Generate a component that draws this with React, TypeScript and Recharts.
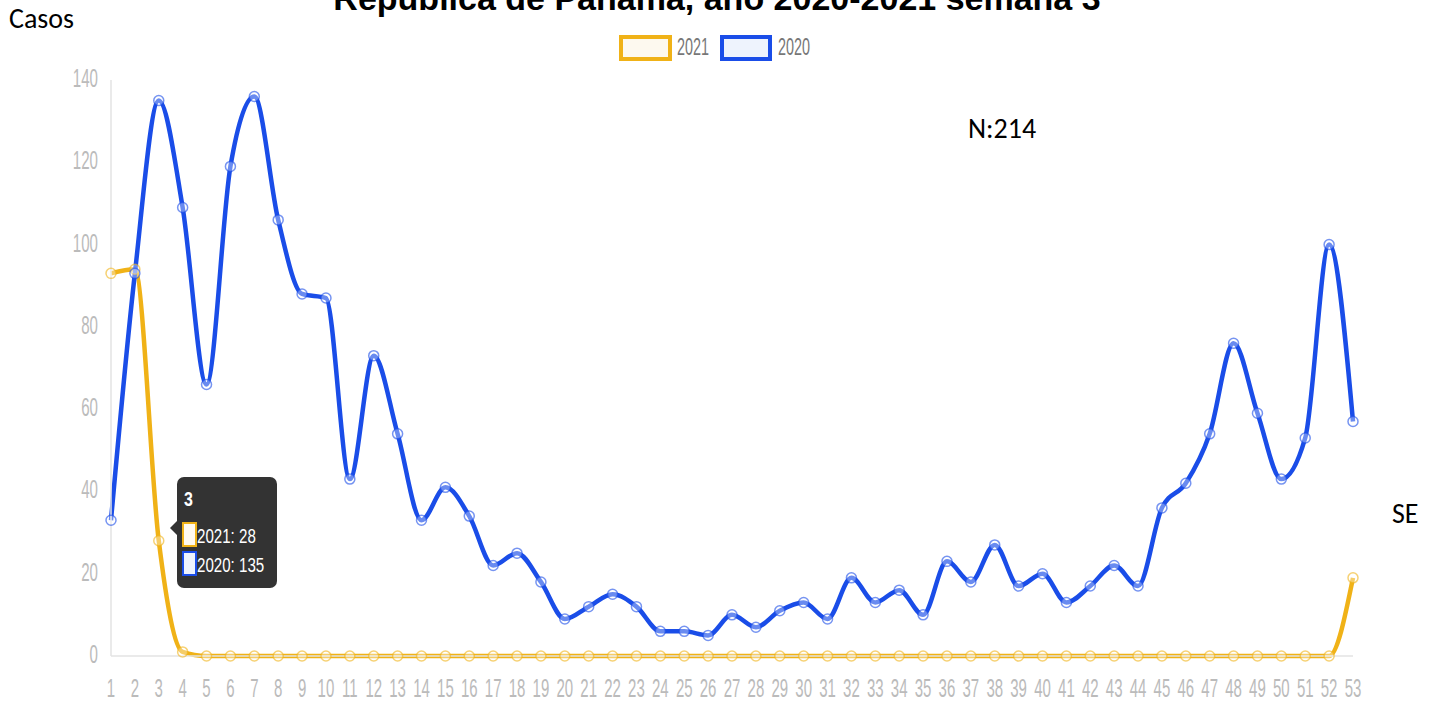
import React from "react";
import { LineChart, Line, XAxis, YAxis, Tooltip } from "recharts";

const weeks: number[] = [
  1, 2, 3, 4, 5, 6, 7, 8, 9, 10, 11, 12, 13, 14, 15, 16, 17, 18, 19, 20,
  21, 22, 23, 24, 25, 26, 27, 28, 29, 30, 31, 32, 33, 34, 35, 36, 37, 38, 39, 40,
  41, 42, 43, 44, 45, 46, 47, 48, 49, 50, 51, 52, 53,
];

const cases2020: number[] = [
  33, 93, 135, 109, 66, 119, 136, 106, 88, 87, 43, 73, 54, 33, 41, 34, 22, 25, 18, 9,
  12, 15, 12, 6, 6, 5, 10, 7, 11, 13, 9, 19, 13, 16, 10, 23, 18, 27, 17, 20,
  13, 17, 22, 17, 36, 42, 54, 76, 59, 43, 53, 100, 57,
];

const cases2021: number[] = [
  93, 94, 28, 1, 0, 0, 0, 0, 0, 0, 0, 0, 0, 0, 0, 0, 0, 0, 0, 0,
  0, 0, 0, 0, 0, 0, 0, 0, 0, 0, 0, 0, 0, 0, 0, 0, 0, 0, 0, 0,
  0, 0, 0, 0, 0, 0, 0, 0, 0, 0, 0, 0, 19,
];

const yTicks: number[] = [0, 20, 40, 60, 80, 100, 120, 140];
const seriesNames: string[] = ["2021", "2020"];

const data = weeks.map((w, i) => ({ week: w, y2021: cases2021[i], y2020: cases2020[i] }));

const YELLOW = "#f0b217";
const BLUE = "#1a4de8";
const ARIAL = "'Liberation Sans', Arial, sans-serif";
const CALIBRI = "Carlito, Calibri, 'Open Sans', sans-serif";
const TICK_COLOR = "#bbbbbb";

const XTick = (props: any) => {
  const { x, y, payload } = props;
  return (
    <g transform={`translate(${x},${y})`}>
      <text transform="scale(0.6,1)" textAnchor="middle" fontFamily={ARIAL} fontSize={25} fill={TICK_COLOR}>
        {payload.value}
      </text>
    </g>
  );
};

const YTick = (props: any) => {
  const { x, y, payload } = props;
  return (
    <g transform={`translate(${x},${y})`}>
      <text transform="scale(0.58,1)" textAnchor="end" dy={7} fontFamily={ARIAL} fontSize={26} fill={TICK_COLOR}>
        {payload.value}
      </text>
    </g>
  );
};

const TipContent = (props: any) => {
  const { payload, label } = props;
  if (!payload || !payload.length) return null;
  return (
    <svg width={108} height={114} style={{ display: "block", overflow: "visible" }}>
      <rect x={7} y={0} width={100} height={111} rx={7} fill="#333" />
      <path d="M7,44 L0,51 L7,58 Z" fill="#333" />
      <g transform="translate(14,29)">
        <text transform="scale(0.8,1)" fontFamily={ARIAL} fontWeight="bold" fontSize={20} fill="#fff">
          {label}
        </text>
      </g>
      {payload.map((p: any, i: number) => {
        const c = p.dataKey === "y2021" ? YELLOW : BLUE;
        const bg = p.dataKey === "y2021" ? "#fffaf0" : "#eef3fd";
        const top = 46 + i * 29;
        return (
          <g key={p.dataKey}>
            <rect x={13} y={top} width={13} height={23} fill={bg} stroke={c} strokeWidth={2} />
            <g transform={`translate(27,${top + 20})`}>
              <text transform="scale(0.72,1)" fontFamily={ARIAL} fontSize={21} fill="#fff">
                {p.name}: {p.value}
              </text>
            </g>
          </g>
        );
      })}
    </svg>
  );
};

export default function App() {
  return (
    <div style={{ position: "relative", width: 1435, height: 702, background: "#fff", overflow: "hidden" }}>
      <style>{"body{margin:0}"}</style>
      <LineChart width={1435} height={702} data={data} margin={{ top: 80, right: 82, bottom: 6, left: 51 }}>
        <XAxis
          dataKey="week"
          type="number"
          domain={[1, 53]}
          ticks={weeks}
          interval={0}
          height={40}
          axisLine={{ stroke: "#e3e3e3", strokeWidth: 1.5 }}
          tickLine={false}
          tickSize={0}
          tickMargin={41}
          tick={<XTick />}
        />
        <YAxis
          domain={[0, 140]}
          ticks={yTicks}
          width={60}
          axisLine={{ stroke: "#e3e3e3", strokeWidth: 1.5 }}
          tickLine={false}
          tickSize={0}
          tickMargin={13}
          tick={<YTick />}
        />
        <Tooltip
          active={true}
          defaultIndex={2}
          cursor={false}
          isAnimationActive={false}
          position={{ x: 170, y: 477 }}
          wrapperStyle={{ outline: "none" }}
          content={<TipContent />}
        />
        <Line
          name={seriesNames[0]}
          dataKey="y2021"
          type="monotone"
          stroke={YELLOW}
          strokeWidth={4.5}
          dot={{ r: 5, stroke: YELLOW, strokeWidth: 1.5, strokeOpacity: 0.6, fill: "rgba(255,255,255,0.35)" }}
          activeDot={false}
          isAnimationActive={false}
        />
        <Line
          name={seriesNames[1]}
          dataKey="y2020"
          type="monotone"
          stroke={BLUE}
          strokeWidth={4.5}
          dot={{ r: 5, stroke: BLUE, strokeWidth: 1.5, strokeOpacity: 0.6, fill: "rgba(255,255,255,0.35)" }}
          activeDot={false}
          isAnimationActive={false}
        />
      </LineChart>
      <svg width={1435} height={702} style={{ position: "absolute", left: 0, top: 0, pointerEvents: "none" }}>
        <text x={717} y={10} textAnchor="middle" fontFamily={ARIAL} fontWeight="bold" fontSize={34} fill="#000">
          República de Panamá, año 2020-2021 semana 3
        </text>
        <rect x={621} y={37} width={49} height={22} fill="#fdf9ef" stroke={YELLOW} strokeWidth={4} />
        <g transform="translate(677,55)">
          <text transform="scale(0.6,1)" fontFamily={ARIAL} fontSize={24} fill="#777">{seriesNames[0]}</text>
        </g>
        <rect x={722} y={37} width={48} height={22} fill="#eef3fd" stroke={BLUE} strokeWidth={4} />
        <g transform="translate(778,55)">
          <text transform="scale(0.6,1)" fontFamily={ARIAL} fontSize={24} fill="#777">{seriesNames[1]}</text>
        </g>
        <text x={9} y={28} fontFamily={CALIBRI} fontSize={28} fill="#000">Casos</text>
        <text x={968} y={138} fontFamily={CALIBRI} fontSize={28} fill="#000">N:214</text>
        <text x={1392} y={523} fontFamily={CALIBRI} fontSize={28} fill="#000">SE</text>
      </svg>
    </div>
  );
}
